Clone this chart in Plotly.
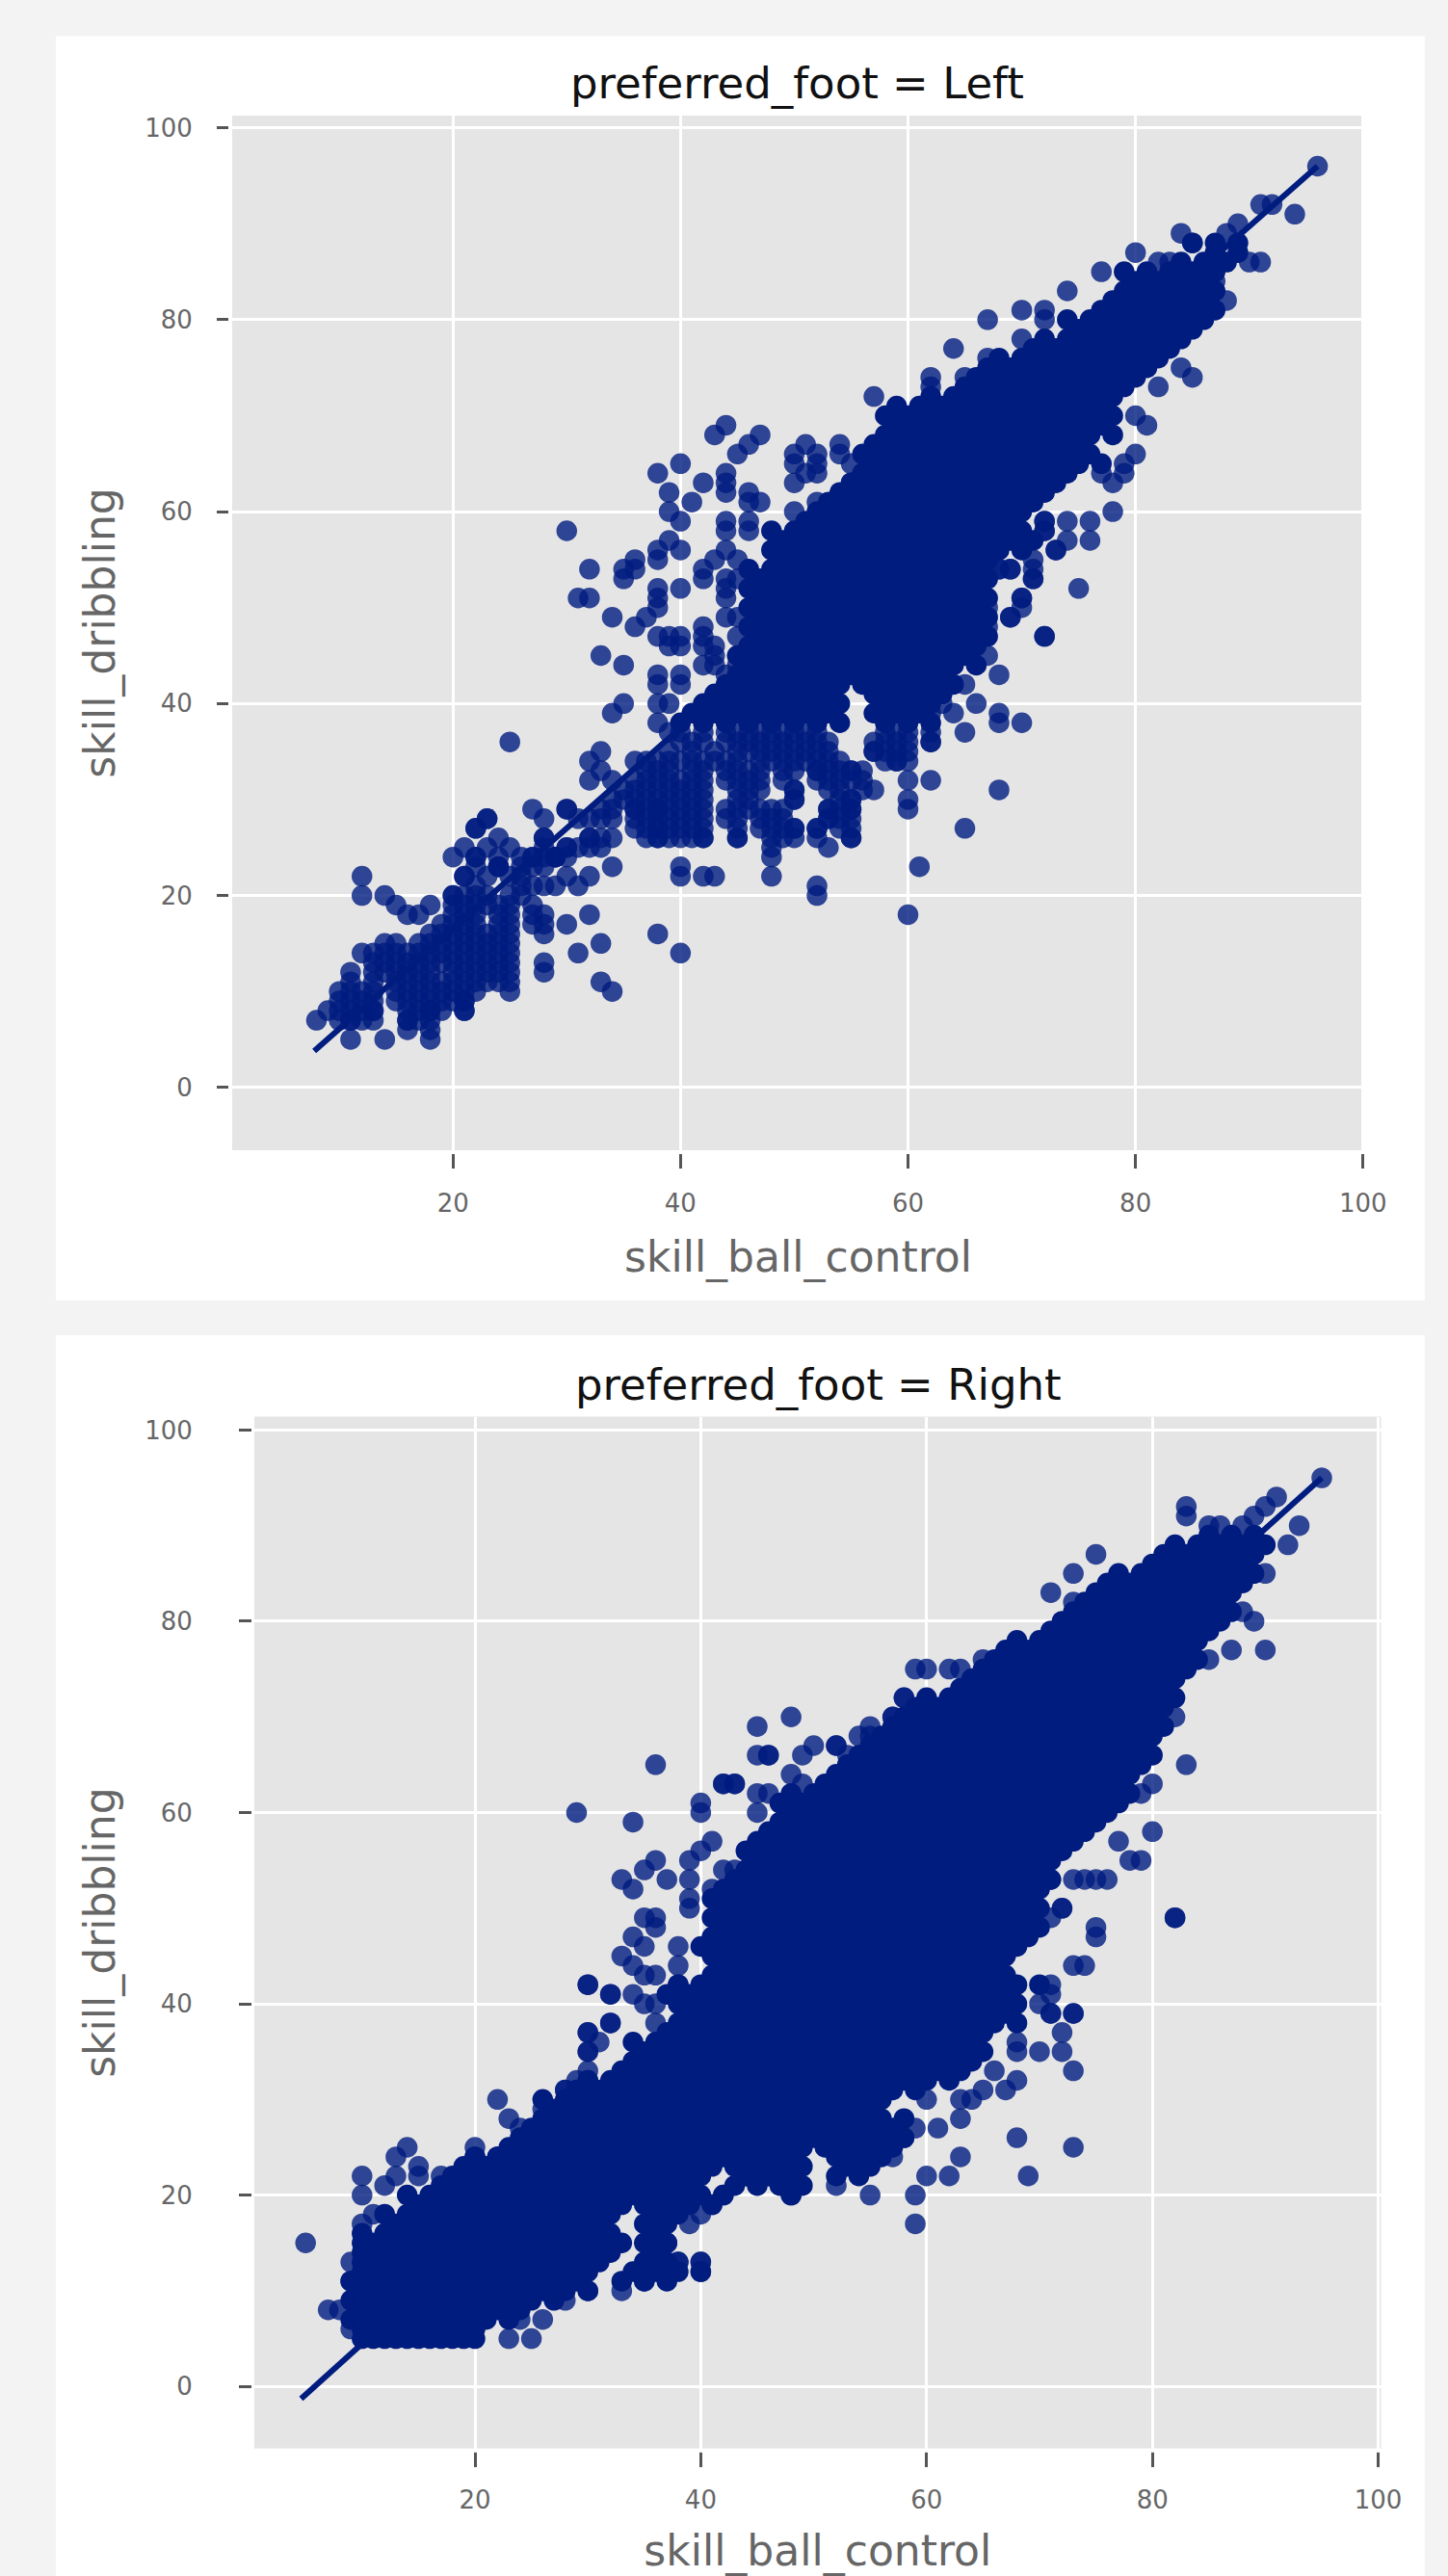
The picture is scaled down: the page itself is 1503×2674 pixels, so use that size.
import plotly.graph_objects as go

W, H = 1503, 2674

# ---- Data: skill_dribbling level -> skill_ball_control values
left_core_levels = [88,87,86,85,84,83,82,81,80,79,78,77,76,75,74,73,72,71,70,69,68,67,66,65,64,63,62,61,60,59,58,57,56,55,54,53,52,51,50,49,48,47,46,45,44,43,42,41,40,39,38]
left_core_control = [
 [85,87,89],
 [87,89],
 [84,86,88],
 [79,81,83,85,87],
 [80,82,84,86],
 [79,81,83,85,87],
 [78,80,82,84,86],
 [77,79,81,83,85,87],
 [74,76,78,80,82,84,86],
 [75,77,79,81,83,85],
 [72,74,76,78,80,82,84],
 [71,73,75,77,79,81,83],
 [68,70,72,74,76,78,80,82],
 [67,69,71,73,75,77,79,81],
 [66,68,70,72,74,76,78,80],
 [65,67,69,71,73,75,77,79],
 [62,64,66,68,70,72,74,76,78],
 [59,61,63,65,67,69,71,73,75,77],
 [58,60,62,64,66,68,70,72,74,76,78],
 [59,61,63,65,67,69,71,73,75,77],
 [58,60,62,64,66,68,70,72,74,76,78],
 [57,59,61,63,65,67,69,71,73,75],
 [56,58,60,62,64,66,68,70,72,74,76],
 [57,59,61,63,65,67,69,71,73,75,77],
 [56,58,60,62,64,66,68,70,72,74],
 [55,57,59,61,63,65,67,69,71,73],
 [54,56,58,60,62,64,66,68,70,72],
 [53,55,57,59,61,63,65,67,69,71],
 [52,54,56,58,60,62,64,66,68,70],
 [51,53,55,57,59,61,63,65,67,69],
 [48,50,52,54,56,58,60,62,64,66,68,70],
 [49,51,53,55,57,59,61,63,65,67,69,71],
 [48,50,52,54,56,58,60,62,64,66,68,70],
 [49,51,53,55,57,59,61,63,65,67],
 [46,48,50,52,54,56,58,60,62,64,66],
 [47,49,51,53,55,57,59,61,63,65,67],
 [46,48,50,52,54,56,58,60,62,64,66],
 [47,49,51,53,55,57,59,61,63,65,67],
 [46,48,50,52,54,56,58,60,62,64,66],
 [47,49,51,53,55,57,59,61,63,65,67],
 [46,48,50,52,54,56,58,60,62,64,66],
 [47,49,51,53,55,57,59,61,63,65,67],
 [46,48,50,52,54,56,58,60,62,64,66],
 [45,47,49,51,53,55,57,59,61,63,65],
 [46,48,50,52,54,56,58,60,62,64,66],
 [45,47,49,51,53,55,57,59,61,63],
 [44,46,48,50,52,54,56,58,60,62,64],
 [43,45,47,49,51,53,57,59,61,63],
 [42,44,46,48,50,52,54,58,60,62],
 [41,43,45,47,49,51,53,57,59,61],
 [40,42,44,46,48,50,52,54,58,60,62],
]
left_sparse_levels = [37,36,35,34,33,32,31,30,29,28,27,26,25,24,23,22,21,20,19,18,17,16,15,14,13,12,11,10,9,8,7]
left_sparse_control = [
 [39,40,42,44,45,46,47,48,49,50,51,52,58,59,60,62],
 [40,41,42,44,45,46,47,48,49,50,51,52,53,57,58,59,60,62],
 [39,41,43,45,46,47,48,49,50,51,52,53,57,58,59,60],
 [37,38,39,40,41,42,43,44,45,47,48,49,50,51,52,53,54,58,59,60],
 [37,38,39,41,42,44,45,46,47,49,50,52,53,54,55],
 [36,37,38,39,40,41,42,44,45,46,47,49,52,53,54,55,56],
 [36,37,38,39,40,41,42,45,46,47,50,53,54,56],
 [34,35,36,37,38,39,40,41,42,45,46,50,54,55],
 [33,36,37,38,39,40,41,42,44,45,46,47,48,49,53,54,55],
 [31,32,33,34,36,37,38,39,40,41,42,44,45,47,48,49,53,54,55],
 [22,36,37,38,39,40,41,42,45,47,48,49,50,52,54,55],
 [24,37,38,39,40,41,42,45,48,49,50,52,55],
 [21,23,25,28,30,31,32],
 [20,22,24,26,28,29,30],
 [22,24,26,27,28],
 [21,23,25,26],
 [22,26,27],
 [20,21,22,23,25,26],
 [20,21,22,23,24,25,27],
 [20,21,22,24,25,27,28],
 [19,20,21,22,24,25,27,28],
 [18,19,20,21,22,23,24,25,28],
 [14,15,17,18,19,20,21,22,23,24,25],
 [12,13,14,15,16,17,18,19,20,21,22,23,24,25],
 [13,14,15,16,17,18,19,20,21,22,23,24,25,28],
 [11,13,14,15,16,17,18,20,21,22,23,24,25,28],
 [11,13,15,16,17,18,19,20,21,22,23,24,25],
 [10,11,12,13,15,16,17,18,19,20,21,22],
 [10,11,12,13,15,16,17,18,19,20,21],
 [9,10,11,12,13,16,17,18,19,21],
 [8,10,11,12,13,16,17,18],
]
left_extra_x = [96,94,91,92,89,88,84,85,90,91,88,87,82,83,80,67,64,70,72,72,74,77,57,62,62,65,67,70,82,84,85,80,81,80,79,79,78,77,78,76,74,76,74,73,72,72,75,71,71,69,68,70,70,69,72,
 44,43,47,46,45,40,38,44,44,44,42,39,41,46,46,47,39,40,44,44,46,46,30,39,38,38,40,36,35,36,35,32,31,32,34,36,37,38,38,38,40,42,42,43,44,45,44,45,44,44,45,44,45,
 38,39,40,39,40,42,42,42,42,43,43,45,45,44,43,33,35,38,38,40,38,38,39,40,35,34,25,33,32,32,33,34,35,
 50,50,50,51,52,52,52,51,54,54,55,56,55,56,50,52,
 27,28,30,23,28,34,36,34,33,32,33,30,29,27,24,34,30,32,31,28,29,
 38,38,38,42,45,48,48,48,40,40,42,43,52,52,53,55,52,50,61,60,65,68,60,60,62,60,57,55,55,55,56,53,53,50,50,52,
 70,68,68,65,65,68,67,67,67,72,69,70,71,71,69,68,73,72,72,
 62,59,57,62,63,66,64,
 12,12,14,15,16,18,17,20,21,22,24,22,23,30,32,36,38,40,32,33,31,33,34,30,29,27,28,25,11,14,16,16,18,18,18,21,21,11,13]
left_extra_y = [96,91,92,92,90,89,89,88,86,86,82,84,86,86,87,80,77,81,81,80,83,85,72,74,73,74,76,78,73,75,74,70,69,66,65,64,63,64,60,59,59,57,57,56,59,58,52,55,53,54,54,51,50,49,47,
 69,68,68,67,66,65,64,64,63,62,63,62,61,62,61,61,60,59,59,58,59,58,58,57,56,55,56,55,54,54,53,54,51,51,49,48,49,50,52,51,52,54,53,55,56,55,53,53,52,51,49,49,47,
 47,47,47,46,46,48,47,46,44,46,45,45,44,43,44,45,44,43,42,43,40,38,40,42,40,39,36,35,34,32,33,32,31,
 66,65,63,64,66,65,64,67,67,66,65,64,63,62,60,61,
 29,28,29,28,26,29,29,26,26,26,25,25,24,24,23,23,22,22,21,21,21,
 29,27,26,26,26,25,24,22,23,22,22,22,21,20,25,26,27,27,23,18,27,31,30,29,32,32,31,29,30,33,33,28,29,30,31,33,
 38,38,39,37,42,43,45,48,50,47,49,51,54,53,54,54,56,58,59,
 36,34,35,39,40,40,39,
 22,20,20,19,18,19,18,20,22,24,23,27,28,29,26,34,16,14,18,15,14,11,10,17,24,24,26,10,5,5,6,7,5,6,8,8,9,7,8]

right_core_levels = [89,88,87,86,85,84,83,82,81,80,79,78,77,76,75,74,73,72,71,70,69,68,67,66,65,64,63,62,61,60,59,58,57,56,55,54,53,52,51,50,49,48,47,46,45,44,43,42,41,40,39,38,37,36,35,34,33,32,31,30,29,28,27,26,25,24,23,22,21,20,19,18,17,16,15,14,13,12,11,10,9,8,7,6,5]
right_core_control = [
 [85,87,89],
 [82,84,86,88,90],
 [81,83,85,87,89],
 [80,82,84,86,88],
 [77,79,81,83,85,87,89],
 [76,78,80,82,84,86,88],
 [75,77,79,81,83,85,87],
 [74,76,78,80,82,84,86],
 [73,75,77,79,81,83,85,87],
 [72,74,76,78,80,82,84,86],
 [71,73,75,77,79,81,83,85],
 [68,70,72,74,76,78,80,82,84],
 [67,69,71,73,75,77,79,81,83],
 [66,68,70,72,74,76,78,80,82,84],
 [65,67,69,71,73,75,77,79,81,83],
 [64,66,68,70,72,74,76,78,80,82],
 [63,65,67,69,71,73,75,77,79,81],
 [60,62,64,66,68,70,72,74,76,78,80,82],
 [59,61,63,65,67,69,71,73,75,77,79,81],
 [58,60,62,64,66,68,70,72,74,76,78,80],
 [57,59,61,63,65,67,69,71,73,75,77,79,81],
 [56,58,60,62,64,66,68,70,72,74,76,78,80],
 [55,57,59,61,63,65,67,69,71,73,75,77,79],
 [54,56,58,60,62,64,66,68,70,72,74,76,78,80],
 [53,55,57,59,61,63,65,67,69,71,73,75,77,79],
 [52,54,56,58,60,62,64,66,68,70,72,74,76,78],
 [51,53,55,57,59,61,63,65,67,69,71,73,75,77],
 [48,50,52,54,56,58,60,62,64,66,68,70,72,74,76,78],
 [47,49,51,53,55,57,59,61,63,65,67,69,71,73,75,77],
 [48,50,52,54,56,58,60,62,64,66,68,70,72,74,76],
 [47,49,51,53,55,57,59,61,63,65,67,69,71,73,75],
 [46,48,50,52,54,56,58,60,62,64,66,68,70,72,74],
 [45,47,49,51,53,55,57,59,61,63,65,67,69,71,73],
 [44,46,48,50,52,54,56,58,60,62,64,66,68,70,72],
 [45,47,49,51,53,55,57,59,61,63,65,67,69,71],
 [44,46,48,50,52,54,56,58,60,62,64,66,68,70],
 [43,45,47,49,51,53,55,57,59,61,63,65,67,69,71],
 [42,44,46,48,50,52,54,56,58,60,62,64,66,68,70],
 [41,43,45,47,49,51,53,55,57,59,61,63,65,67,69],
 [42,44,46,48,50,52,54,56,58,60,62,64,66,68,70],
 [41,43,45,47,49,51,53,55,57,59,61,63,65,67,69],
 [42,44,46,48,50,52,54,56,58,60,62,64,66,68,70],
 [41,43,45,47,49,51,53,55,57,59,61,63,65,67,69],
 [40,42,44,46,48,50,52,54,56,58,60,62,64,66,68],
 [41,43,45,47,49,51,53,55,57,59,61,63,65,67],
 [42,44,46,48,50,52,54,56,58,60,62,64,66],
 [41,43,45,47,49,51,53,55,57,59,61,63,65,67],
 [38,40,42,44,46,48,50,52,54,56,58,60,62,64,66,68,70],
 [37,39,41,43,45,47,49,51,53,55,57,59,61,63,65,67],
 [38,40,42,44,46,48,50,52,54,56,58,60,62,64,66,68],
 [39,41,43,45,47,49,51,53,55,57,59,61,63,65,67],
 [38,40,42,44,46,48,50,52,54,56,58,60,62,64,66,68],
 [37,39,41,43,45,47,49,51,53,55,57,59,61,63,65],
 [34,36,38,40,42,44,46,48,50,52,54,56,58,60,62,64],
 [35,37,39,41,43,45,47,49,51,53,55,57,59,61,63,65],
 [34,36,38,40,42,44,46,48,50,52,54,56,58,60,62,64],
 [33,35,37,39,41,43,45,47,49,51,53,55,57,59,61,63],
 [30,32,34,36,38,40,42,44,46,48,50,52,54,56,58,60,62],
 [29,31,33,35,37,39,41,43,45,47,49,51,53,55,57,59],
 [26,28,30,32,34,36,38,40,42,44,46,48,50,52,54,56],
 [27,29,31,33,35,37,39,41,43,45,47,49,51,53,55],
 [26,28,30,32,34,36,38,40,42,44,46,48,50,52,54,56,58],
 [25,27,29,31,33,35,37,39,41,43,45,47,49,51,53,55,57],
 [24,26,28,30,32,34,36,38,40,42,44,46,48,50,52,54,56,58],
 [23,25,27,29,31,33,35,37,39,41,43,45,47,49,51,53,55,57],
 [20,22,24,26,28,30,32,34,36,38,40,42,44,46,48,52,54,56],
 [19,21,23,25,27,29,31,33,35,37,39,41,43,45,47,49,53,55],
 [18,20,22,24,26,28,30,32,34,36,38,40,44,46,48,52,54],
 [17,19,21,23,25,27,29,31,33,35,37,39,43,45,47,49],
 [14,16,18,20,22,24,26,28,30,32,34,36,38,40,42,48],
 [15,17,19,21,23,25,27,29,31,33,35,37,39,41],
 [12,14,16,18,20,22,24,26,28,30,32,36,38],
 [13,15,17,19,21,23,25,27,29,31,35,37],
 [10,12,14,16,18,20,22,24,26,28,30,32,36],
 [10,11,13,15,17,19,21,23,25,27,29,31,33,35,37],
 [10,12,14,16,18,20,22,24,26,28,30,32,36],
 [10,11,13,15,17,19,21,23,25,27,29,31,35,37],
 [10,12,14,16,18,20,22,24,26,28,30,34,36,38,40],
 [9,10,11,13,15,17,19,21,23,25,27,29,33,35,37],
 [10,12,14,16,18,20,22,24,26,28,30],
 [9,10,11,13,15,17,19,21,23,25,27],
 [10,12,14,16,18,20,22,24],
 [9,10,11,13,15,17,19,21,23],
 [10,11,12,13,14,15,16,17,18,19,20],
 [10,11,12,13,14,15,16,17,18,19,20],
]
right_extra_x = [95,91,90,83,83,85,86,88,89,93,92,90,90,87,85,88,89,83,82,80,79,80,77,78,79,73,74,75,76,71,82,75,73,74,71,71,72,70,71,73,75,73,71,73,
 48,45,59,60,62,63,65,58,57,55,54,52,50,46,43,42,53,
 36,42,43,29,34,40,40,45,45,46,46,45,49,52,53,55,57,58,48,49,41,40,39,36,35,37,33,34,39,39,39,41,42,43,35,36,36,34,35,38,38,33,34,35,36,30,32,34,35,36,38,32,36,30,30,31,22,23,24,28,29,30,26,26,22,
 82,75,72,71,71,73,72,72,73,70,68,68,66,68,67,65,64,63,63,60,61,59,58,57,63,68,73,69,62,60,59,59,
 55,52,48,46,44,42,41,40,39,40,38,37,
 5,7,8,9,9,9,10,10,10,11,12,13,14,15,15,13,17,20,20,22,22,23,25,26,24,28,30,33,40,40,38,37,37,35,28,30,30,30,32,30,32]
right_extra_y = [95,93,92,92,91,90,90,90,91,90,88,85,77,77,76,81,80,65,70,63,62,58,57,55,55,53,53,53,53,53,49,47,44,44,41,49,50,40,39,39,87,85,83,82,
 70,69,75,75,75,75,76,72,70,68,68,67,67,66,63,63,65,
 65,63,63,60,59,61,60,62,60,62,66,66,66,67,66,69,70,72,64,63,57,56,55,55,54,53,53,52,53,51,50,52,54,54,49,49,48,47,46,46,44,45,44,43,43,42,41,41,40,40,42,38,38,37,35,36,30,28,27,31,32,33,29,27,24,
 49,48,50,42,39,39,37,35,33,35,36,35,33,32,31,31,30,30,28,30,27,27,26,24,24,26,25,22,22,22,20,17,
 20,21,20,22,22,20,19,18,17,13,13,15,
 15,8,8,6,13,11,22,20,17,18,21,24,25,22,23,22,22,24,25,23,24,5,5,7,7,9,10,10,13,12,13,15,12,11,31,32,35,37,38,42,41]

left_fit_x = [7.8, 96]
left_fit_y = [3.8, 96]
right_fit_x = [4.6, 95]
right_fit_y = [-1.3, 95]

panel_titles = ["preferred_foot = Left", "preferred_foot = Right"]
x_label = "skill_ball_control"
y_label = "skill_dribbling"
tick_values = [0, 20, 40, 60, 80, 100]

NAVY = "#001C7F"


def flatten(levels, rows):
    xs, ys = [], []
    for lvl, row in zip(levels, rows):
        xs.extend(row)
        ys.extend([lvl] * len(row))
    return xs, ys


def marks(xs, ys, xa, ya, opacity):
    return go.Scatter(x=xs, y=ys, mode="markers", xaxis=xa, yaxis=ya, showlegend=False,
                      marker=dict(color=NAVY, size=21.5, opacity=opacity, line=dict(width=0)))


lcx, lcy = flatten(left_core_levels, left_core_control)
lsx, lsy = flatten(left_sparse_levels, left_sparse_control)
rcx, rcy = flatten(right_core_levels, right_core_control)

fig = go.Figure()
fig.add_trace(marks(left_extra_x, left_extra_y[:len(left_extra_x)], "x", "y", 0.8))
fig.add_trace(marks(lsx, lsy, "x", "y", 0.8))
fig.add_trace(marks(lcx, lcy, "x", "y", 1))
fig.add_trace(go.Scatter(x=left_fit_x, y=left_fit_y, mode="lines", xaxis="x", yaxis="y", showlegend=False,
                         line=dict(color=NAVY, width=6)))
fig.add_trace(marks(right_extra_x, right_extra_y[:len(right_extra_x)], "x2", "y2", 0.8))
fig.add_trace(marks(rcx, rcy, "x2", "y2", 1))
fig.add_trace(go.Scatter(x=right_fit_x, y=right_fit_y, mode="lines", xaxis="x2", yaxis="y2", showlegend=False,
                         line=dict(color=NAVY, width=6)))


def px(v):
    return v / W


def py(v):
    return 1 - v / H


def rect(x0, y0, x1, y1, color, layer):
    return dict(type="rect", xref="paper", yref="paper", x0=px(x0), x1=px(x1), y0=py(y1), y1=py(y0),
                fillcolor=color, line=dict(width=0), layer=layer)


panels = [
    dict(l=241, r=1416, t=120, b=1194, xr=[0.59, 100.1], yr=[-6.55, 101.27], gapx=4,
         x_standoff=14, x_title=25, y_standoff=20),
    dict(l=264, r=1433.5, t=1470.5, b=2541.7, xr=[0.46, 100.25], yr=[-6.5, 101.4], gapx=3,
         x_standoff=12, x_title=26, y_standoff=43),
]


def x_axis(p, anchor):
    return dict(domain=[px(p["l"]), px(p["r"])], range=p["xr"], anchor=anchor, tickvals=tick_values, automargin=False,
                ticks="outside", ticklen=18, tickwidth=2.5, tickcolor="#555555", showline=False, zeroline=False,
                showgrid=True, gridcolor="white", gridwidth=3, ticklabelstandoff=p["x_standoff"],
                tickfont=dict(family="DejaVu Sans", size=26, color="#666666"),
                title=dict(text=x_label, standoff=p["x_title"], font=dict(family="DejaVu Sans", size=44, color="#666666")))


def y_axis(p, anchor):
    return dict(domain=[py(p["b"]), py(p["t"])], range=p["yr"], anchor=anchor, tickvals=tick_values, automargin=False,
                ticks="outside", ticklen=15, tickwidth=2.5, tickcolor="#555555", showline=False, zeroline=False,
                showgrid=True, gridcolor="white", gridwidth=3, ticklabelstandoff=p["y_standoff"],
                tickfont=dict(family="DejaVu Sans", size=26, color="#666666"),
                title=dict(text=y_label, standoff=16, font=dict(family="DejaVu Sans", size=44, color="#666666")))


shapes = [
    rect(58, 37.5, 1479, 1350, "white", "below"),
    rect(58, 1386, 1479, 2674, "white", "below"),
]
for p in panels:
    shapes.append(rect(p["l"], p["t"], p["r"], p["b"], "#E5E5E5", "below"))
    shapes.append(rect(p["l"] - p["gapx"], p["t"], p["l"], p["b"] + 4, "white", "above"))
    shapes.append(rect(p["l"] - p["gapx"], p["b"], p["r"], p["b"] + 4, "white", "above"))

annotations = [
    dict(text=panel_titles[0], xref="paper", yref="paper", x=px(827), y=py(86), showarrow=False,
         xanchor="center", yanchor="middle", font=dict(family="DejaVu Sans", size=45, color="#111111")),
    dict(text=panel_titles[1], xref="paper", yref="paper", x=px(849), y=py(1437), showarrow=False,
         xanchor="center", yanchor="middle", font=dict(family="DejaVu Sans", size=45, color="#111111")),
]

fig.update_layout(
    width=W, height=H, autosize=False,
    margin=dict(l=0, r=0, t=0, b=0),
    paper_bgcolor="#F3F3F3", plot_bgcolor="#E5E5E5",
    showlegend=False, shapes=shapes, annotations=annotations,
    xaxis=x_axis(panels[0], "y"), yaxis=y_axis(panels[0], "x"),
    xaxis2=x_axis(panels[1], "y2"), yaxis2=y_axis(panels[1], "x2"),
)

fig.write_html("out.html", config=dict(displayModeBar=False),
               post_script="document.body.style.margin='0';document.documentElement.style.overflow='hidden';")
